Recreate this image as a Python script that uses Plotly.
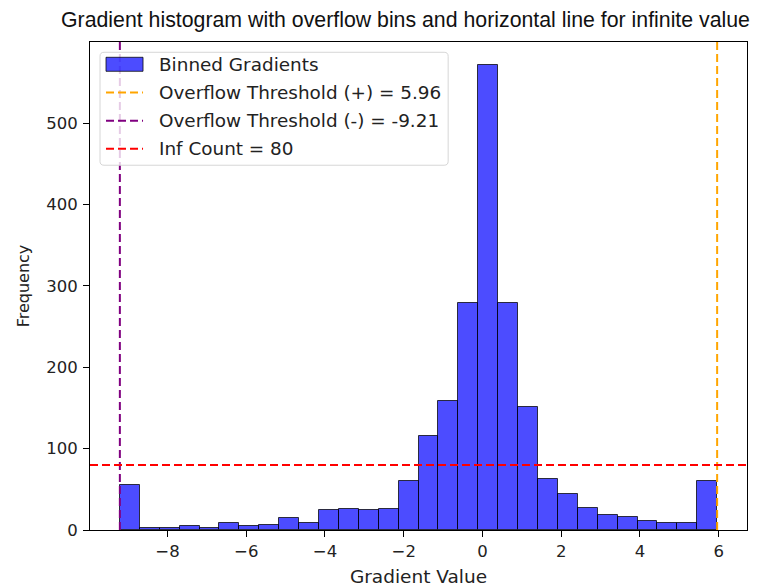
import numpy as np
import plotly.graph_objects as go

# Histogram of gradients, clipped into overflow bins at the thresholds
pos_threshold = 5.96
neg_threshold = -9.21
n_bins = 30
counts = [55, 3, 3, 5, 3, 8, 5, 6, 15, 8,
          25, 26, 25, 26, 60, 115, 158, 279, 571, 279,
          151, 63, 44, 27, 18, 16, 11, 8, 8, 60]
inf_count = 80

x_ticks = [-8, -6, -4, -2, 0, 2, 4, 6]
y_ticks = [0, 100, 200, 300, 400, 500]

edges = np.linspace(neg_threshold, pos_threshold, n_bins + 1)
centers = (edges[:-1] + edges[1:]) / 2
bin_width = edges[1] - edges[0]

span = pos_threshold - neg_threshold
x_range = [neg_threshold - 0.05 * span, pos_threshold + 0.05 * span]
y_top = 1.05 * max(counts)

FONT = "DejaVu Sans"
W, H = 763, 587
M_L, M_R, M_T, M_B = 90, 16.3, 41.7, 57
PW, PH = W - M_L - M_R, H - M_T - M_B


def px(xp):
    """Pixel column -> paper x."""
    return (xp - M_L) / PW


def py(yp):
    """Pixel row -> paper y."""
    return 1 - (yp - M_T) / PH


BAR_FILL = "rgba(0,0,255,0.7)"
BAR_EDGE = "rgba(0,0,0,0.75)"
DASH = "8px,4px"

series = [
    dict(name="Binned Gradients", kind="bar"),
    dict(name=f"Overflow Threshold (+) = {pos_threshold:.2f}", kind="line", color="orange"),
    dict(name=f"Overflow Threshold (-) = {neg_threshold:.2f}", kind="line", color="purple"),
    dict(name=f"Inf Count = {inf_count}", kind="line", color="red"),
]

fig = go.Figure()
fig.add_trace(go.Bar(
    x=centers, y=counts, width=bin_width,
    marker=dict(color=BAR_FILL, line=dict(color=BAR_EDGE, width=1)),
    name=series[0]["name"], showlegend=False,
))
fig.add_trace(go.Scatter(
    x=[pos_threshold, pos_threshold], y=[0, y_top], mode="lines",
    line=dict(color="orange", width=2, dash=DASH),
    name=series[1]["name"], showlegend=False,
))
fig.add_trace(go.Scatter(
    x=[neg_threshold, neg_threshold], y=[0, y_top], mode="lines",
    line=dict(color="purple", width=2, dash=DASH),
    name=series[2]["name"], showlegend=False,
))
fig.add_trace(go.Scatter(
    x=x_range, y=[inf_count, inf_count], mode="lines",
    line=dict(color="red", width=2, dash=DASH),
    name=series[3]["name"], showlegend=False,
))

# Legend box (rounded, semi-transparent) drawn in paper coordinates
bx0, bx1, by0, by1, r = 100, 448, 52, 165, 4
shapes = [dict(
    type="path", xref="paper", yref="paper", layer="above",
    path=(f"M {px(bx0 + r)},{py(by0)} L {px(bx1 - r)},{py(by0)} "
          f"Q {px(bx1)},{py(by0)} {px(bx1)},{py(by0 + r)} "
          f"L {px(bx1)},{py(by1 - r)} Q {px(bx1)},{py(by1)} {px(bx1 - r)},{py(by1)} "
          f"L {px(bx0 + r)},{py(by1)} Q {px(bx0)},{py(by1)} {px(bx0)},{py(by1 - r)} "
          f"L {px(bx0)},{py(by0 + r)} Q {px(bx0)},{py(by0)} {px(bx0 + r)},{py(by0)} Z"),
    fillcolor="rgba(255,255,255,0.8)", line=dict(color="#d6d6d6", width=1),
)]
annotations = []
hx0, hx1, tx = 106, 143, 157
for i, s in enumerate(series):
    yc = 64 + 28.2 * i
    if s["kind"] == "bar":
        shapes.append(dict(
            type="rect", xref="paper", yref="paper", layer="above",
            x0=px(hx0), x1=px(hx1), y0=py(yc - 7), y1=py(yc + 7),
            fillcolor=BAR_FILL, line=dict(color=BAR_EDGE, width=1),
        ))
    else:
        shapes.append(dict(
            type="line", xref="paper", yref="paper", layer="above",
            x0=px(hx0), x1=px(hx1), y0=py(yc), y1=py(yc),
            line=dict(color=s["color"], width=2, dash=DASH),
        ))
    annotations.append(dict(
        text=s["name"], xref="paper", yref="paper",
        x=px(tx), y=py(yc), xanchor="left", yanchor="middle",
        showarrow=False, font=dict(family=FONT, size=18.4, color="#222"),
    ))

axis_common = dict(
    showline=True, linecolor="black", linewidth=1, mirror=True,
    ticks="outside", ticklen=6, tickcolor="black", tickwidth=1,
    showgrid=False, zeroline=False, automargin=False,
    tickfont=dict(family=FONT, size=16.5, color="#222"),
)

fig.update_layout(
    width=W, height=H,
    margin=dict(l=M_L, r=M_R, t=M_T, b=M_B),
    paper_bgcolor="white", plot_bgcolor="white",
    bargap=0, showlegend=False,
    title=dict(
        text="Gradient histogram with overflow bins and horizontal line for infinite value",
        font=dict(family="Liberation Sans", size=21.3, color="#111"),
        x=61 / W, xref="container", xanchor="left",
        y=1 - 20 / H, yref="container", yanchor="middle",
    ),
    xaxis=dict(range=x_range, tickvals=x_ticks,
               title=dict(text="Gradient Value", standoff=10,
                          font=dict(family=FONT, size=18.5, color="#222")),
               **axis_common),
    yaxis=dict(range=[0, y_top], tickvals=y_ticks, ticklabelstandoff=2,
               title=dict(text="Frequency", standoff=12,
                          font=dict(family=FONT, size=16, color="#222")),
               **axis_common),
    shapes=shapes,
    annotations=annotations,
)

fig.write_html("out.html")
